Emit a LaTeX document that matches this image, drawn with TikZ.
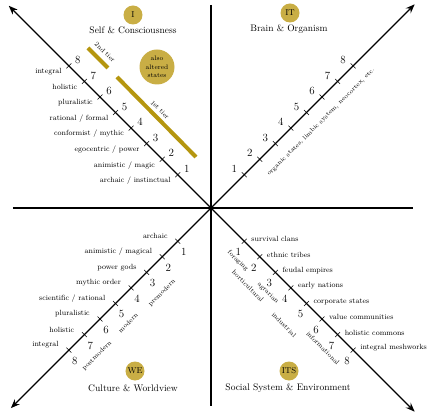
\documentclass[tikz,border=0pt]{standalone}
\usepackage{tikz}
\usetikzlibrary{arrows.meta, calc}
\definecolor{goldfill}{HTML}{C9AE45}
\definecolor{golddraw}{HTML}{B5960F}
\tikzset{
  axis/.style={line width=2.3pt, draw=black},
  diag/.style={-{Stealth[length=9pt, width=7pt]}, line width=1.3pt, draw=black},
  tk/.style={line width=0.5pt, draw=black},
  num/.style={font=\fontsize{11}{12}\selectfont, inner sep=0pt},
  lvl/.style={font=\fontsize{7.5}{9}\selectfont, inner sep=0pt},
  rot/.style={font=\fontsize{6.6}{8}\selectfont, inner sep=0pt},
  badge/.style={circle, fill=goldfill, minimum size=19pt, inner sep=0pt, font=\fontsize{8.5}{10}\selectfont},
  ttl/.style={font=\fontsize{9.5}{11}\selectfont, inner sep=0pt},
  bar/.style={draw=golddraw, line width=4pt},
}

\begin{document}
\begin{tikzpicture}[x=1pt, y=1pt]
  \useasboundingbox (-211,-209) rectangle (222,208);
  % axes
  \coordinate (o) at (0,0);
  \coordinate (top) at (0,203);
  \coordinate (bot) at (0,-198);
  \coordinate (lft) at (-198,0);
  \coordinate (rgt) at (202,0);
  \draw[axis] (top) -- (bot);
  \draw[axis] (lft) -- (rgt);
  \coordinate (nwtip) at (135:286);
  \coordinate (netip) at (45:288);
  \coordinate (swtip) at (225:283);
  \coordinate (setip) at (-45:288);
  \draw[diag] (o) -- (nwtip);
  \draw[diag] (o) -- (netip);
  \draw[diag] (o) -- (swtip);
  \draw[diag] (o) -- (setip);

  % I: self & consciousness
  \node[badge] (qI) at (-78,193) {I};
  \node[ttl] (tI) at (-78,178) {Self \& Consciousness};
  \node[circle, fill=goldfill, minimum size=35pt, inner sep=0pt, align=center,
        font=\fontsize{6.6}{8.5}\selectfont] (alt) at (-54,141) {also\\altered\\states};
  \coordinate (t2a) at (-123,160);
  \coordinate (t2b) at (-103,140);
  \coordinate (t1a) at (-94,131);
  \coordinate (t1b) at (-15,51);
  \draw[bar] (t2a) -- (t2b);
  \draw[bar] (t1a) -- (t1b);
  \node[rot, rotate=-45] (t2l) at (-106,156) {2nd tier};
  \node[rot, rotate=-45] (t1l) at (-51,98) {1st tier};
  \foreach \txt [count=\i] in {{archaic / instinctual}, {animistic / magic}, {egocentric / power},
      {conformist / mythic}, {rational / formal}, {pluralistic}, {holistic}, {integral}} {
    \coordinate (nw\i) at (135:{25+22*\i});
    \draw[tk] ($(nw\i)+(45:3.5)$) -- ($(nw\i)+(225:3.5)$);
    \node[num] (nwn\i) at ($(nw\i)+(9,6)$) {\i};
    \node[lvl, anchor=east] (nwl\i) at ($(nw\i)+(-7,-6)$) {\txt};
  }

  % IT: brain & organism
  \node[badge] (qII) at (79,195) {IT};
  \node[ttl] (tII) at (78,179) {Brain \& Organism};
  \foreach \i in {1,...,8} {
    \coordinate (ne\i) at (45:{25+22*\i});
    \draw[tk] ($(ne\i)+(135:3.5)$) -- ($(ne\i)+(-45:3.5)$);
    \node[num] (nen\i) at ($(ne\i)+(-10,6)$) {\i};
  }
  \node[rot, rotate=45, font=\fontsize{6.2}{8}\selectfont] (org) at (110,86) {organic states, limbic system, neocortex, etc.};

  % WE: culture & worldview
  \node[badge] (qIII) at (-76,-163) {WE};
  \node[ttl] (tIII) at (-78,-180) {Culture \& Worldview};
  \foreach \txt [count=\i] in {{archaic}, {animistic / magical}, {power gods}, {mythic order},
      {scientific / rational}, {pluralistic}, {holistic}, {integral}} {
    \coordinate (sw\i) at (225:{25+22*\i});
    \draw[tk] ($(sw\i)+(135:3.5)$) -- ($(sw\i)+(-45:3.5)$);
    \node[num] (swn\i) at ($(sw\i)+(6,-11)$) {\i};
    \node[lvl, anchor=east] (swl\i) at ($(sw\i)+(-10,5)$) {\txt};
  }
  \node[rot, rotate=45] (pre) at (-49,-85) {premodern};
  \node[rot, rotate=45] (mod) at (-83,-115) {modern};
  \node[rot, rotate=45] (pst) at (-114,-148) {postmodern};

  % ITS: social system & environment
  \node[badge] (qIV) at (78,-163) {ITS};
  \node[ttl] (tIV) at (77,-180) {Social System \& Environment};
  \foreach \txt [count=\i] in {{survival clans}, {ethnic tribes}, {feudal empires}, {early nations},
      {corporate states}, {value communities}, {holistic commons}, {integral meshworks}} {
    \coordinate (se\i) at (-45:{25+22*\i});
    \draw[tk] ($(se\i)+(45:3.5)$) -- ($(se\i)+(225:3.5)$);
    \node[num] (sen\i) at ($(se\i)+(-6,-11)$) {\i};
    \node[lvl, anchor=west] (sel\i) at ($(se\i)+(7,2)$) {\txt};
  }
  \node[rot, rotate=-45] (for) at (27,-53) {foraging};
  \node[rot, rotate=-45] (hor) at (37,-78) {horticultural};
  \node[rot, rotate=-45] (agr) at (57,-85) {agrarian};
  \node[rot, rotate=-45] (ind) at (73,-117) {industrial};
  \node[rot, rotate=-45] (inf) at (112,-140) {informational};
\end{tikzpicture}
\end{document}
